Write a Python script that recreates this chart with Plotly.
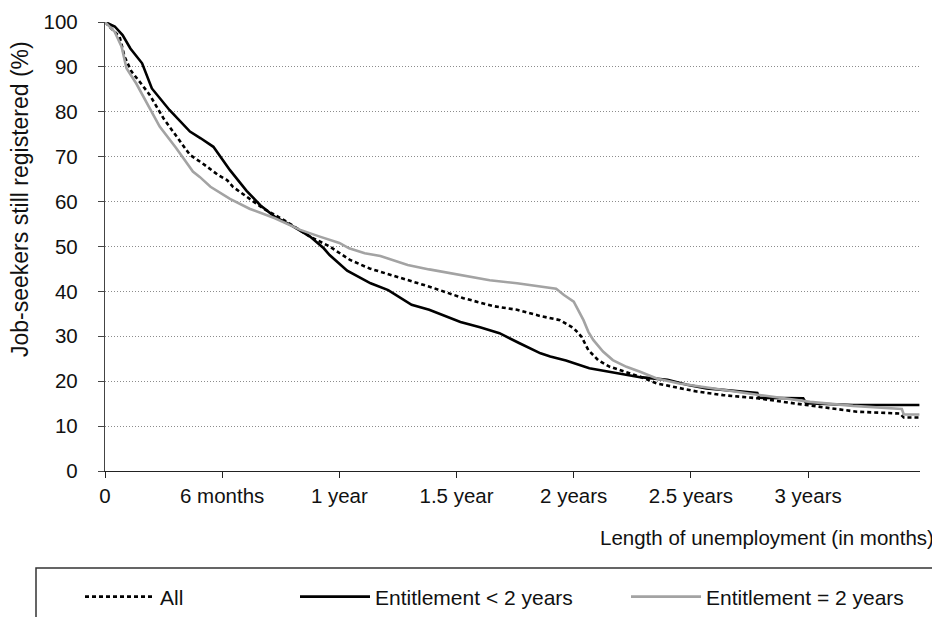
import plotly.graph_objects as go

# ---- data (months, % still registered) ----
all_months = [0, 0.75, 1.0, 1.35, 1.9, 2.3, 3.0, 3.65, 4.35, 5.0, 5.8, 6.25, 6.55, 7.25, 8.1, 9.3,
              10.5, 11.5, 12.55, 13.55, 14.95, 16.65, 18.35, 19.9, 21.1, 22.3, 23.3, 24.0, 24.4,
              24.75, 25.25, 25.85, 26.35, 27.4, 28.25, 29.45, 30.3, 31.65, 33.4, 35.9, 38.5,
              40.7, 40.9, 41.7]
all_values = [100, 96.7, 92.3, 89.0, 86.0, 83.7, 78.5, 74.5, 70.4, 68.5, 65.9, 64.8, 63.3, 61.1,
              58.5, 55.5, 52.2, 50.0, 47.0, 45.1, 43.3, 41.0, 38.5, 36.7, 35.9, 34.5, 33.6, 31.8,
              29.9, 26.9, 24.7, 23.2, 22.5, 21.0, 19.5, 18.4, 17.7, 16.9, 16.2, 14.7, 13.2, 12.8,
              11.9, 11.9]

lt2_months = [0, 0.5, 0.9, 1.3, 1.9, 2.4, 3.3, 4.35, 4.9, 5.55, 6.4, 7.25, 7.95, 8.7, 9.5, 10.5,
              11.2, 11.5, 12.4, 13.6, 14.5, 15.7, 16.6, 17.8, 18.2, 19.2, 20.2, 21.2, 22.3, 22.8,
              23.6, 24.8, 26.2, 27.4, 28.8, 29.8, 30.8, 33.4, 33.5, 35.75, 35.9, 38.3, 41.7]
lt2_values = [100, 99.0, 97.1, 94.1, 90.8, 85.2, 80.4, 75.6, 74.1, 72.2, 67.0, 62.4, 59.2, 56.6,
              54.8, 52.2, 49.6, 48.1, 44.6, 41.8, 40.3, 37.0, 35.9, 34.0, 33.2, 32.0, 30.7, 28.5,
              26.2, 25.5, 24.6, 22.9, 21.8, 20.9, 20.3, 19.2, 18.4, 17.4, 16.3, 16.2, 15.1, 14.7,
              14.7]

eq2_months = [0, 0.5, 0.85, 1.1, 1.6, 2.15, 2.8, 3.65, 4.5, 4.85, 5.4, 6.4, 7.4, 8.7, 10.0, 11.0,
              12.0, 12.5, 13.3, 14.1, 15.5, 16.6, 17.8, 19.7, 21.1, 22.3, 23.1, 23.5, 24.0, 24.5,
              24.75, 25.0, 25.5, 26.0, 26.7, 27.4, 28.25, 29.4, 30.3, 31.8, 33.4, 36.1, 38.3,
              40.8, 40.9, 41.7]
eq2_values = [100, 97.8, 94.5, 89.7, 86.3, 81.9, 76.7, 71.9, 66.7, 65.5, 63.3, 60.6, 58.4, 56.3,
              53.7, 52.2, 50.8, 49.6, 48.5, 47.9, 45.9, 44.9, 44.0, 42.5, 41.8, 41.1, 40.6, 39.2,
              37.7, 33.6, 31.0, 29.2, 26.6, 24.7, 23.2, 22.1, 20.6, 19.5, 18.9, 18.0, 17.0, 15.4,
              14.5, 13.8, 12.6, 12.6]

x_tickvals = [0, 6, 12, 18, 24, 30, 36]
x_ticktext = ["0", "6 months", "1 year", "1.5 year", "2 years", "2.5 years", "3 years"]
y_tickvals = [0, 10, 20, 30, 40, 50, 60, 70, 80, 90, 100]

FONT = "Liberation Sans, Arial, Helvetica, sans-serif"
# the page body adds an 8px offset; size the figure so it fits the 940x617 window
OFF = 8
W, H = 940 - OFF, 617 - OFF
ML, MR, MT, MB = 105 - OFF, 20, 22 - OFF, 146
PW, PH = W - ML - MR, H - MT - MB


def px_x(p):
    # p: window pixel column
    return (p - OFF - ML) / PW


def px_y(p):
    # p: window pixel row
    return (H - MB - (p - OFF)) / PH


fig = go.Figure()
fig.add_trace(go.Scatter(x=all_months, y=all_values, mode="lines", name="All",
                         line=dict(color="#000000", width=2.6, dash="4px,3px"),
                         legend="legend"))
fig.add_trace(go.Scatter(x=lt2_months, y=lt2_values, mode="lines", name="Entitlement < 2 years",
                         line=dict(color="#000000", width=2.6), legend="legend2"))
fig.add_trace(go.Scatter(x=eq2_months, y=eq2_values, mode="lines", name="Entitlement = 2 years",
                         line=dict(color="#a3a3a3", width=2.6), legend="legend3"))

leg_common = dict(orientation="h", yanchor="middle", y=px_y(597), xanchor="left",
                  font=dict(family=FONT, size=21, color="#111"), bgcolor="rgba(0,0,0,0)",
                  itemwidth=70, borderwidth=0)

fig.update_layout(
    width=W, height=H,
    margin=dict(l=ML, r=MR, t=MT, b=MB, autoexpand=False),
    paper_bgcolor="white", plot_bgcolor="white",
    font=dict(family=FONT, size=20.5, color="#111"),
    showlegend=True,
    legend=dict(x=px_x(80), **leg_common),
    legend2=dict(x=px_x(295), **leg_common),
    legend3=dict(x=px_x(626), **leg_common),
    xaxis=dict(range=[0, 41.73], tickvals=x_tickvals, ticktext=x_ticktext,
               showline=True, linecolor="#222", linewidth=1.3, ticks="outside",
               ticklen=6, tickcolor="#222", showgrid=False, zeroline=False, automargin=False,
               tickfont=dict(family=FONT, size=20.5, color="#111"), ticklabelstandoff=0),
    yaxis=dict(range=[0, 100], tickvals=y_tickvals, showline=True, linecolor="#444",
               linewidth=1.3, ticks="outside", ticklen=6, tickcolor="#444", automargin=False,
               showgrid=True, gridcolor="#8c8c8c", gridwidth=1, griddash="1px,2px",
               zeroline=False, tickfont=dict(family=FONT, size=20.5, color="#111"),
               ticklabelstandoff=16),
    annotations=[
        dict(text="Length of unemployment (in months)", xref="paper", yref="paper",
             x=px_x(936), y=px_y(537), xanchor="right", yanchor="middle", showarrow=False,
             font=dict(family=FONT, size=20.5, color="#111")),
        dict(text="Job-seekers still registered (%)", xref="paper", yref="paper",
             x=px_x(20), y=px_y(199), xanchor="center", yanchor="middle", showarrow=False,
             textangle=-90, font=dict(family=FONT, size=23, color="#111")),
    ],
    shapes=[
        dict(type="rect", xref="paper", yref="paper", x0=px_x(36), x1=px_x(980),
             y0=px_y(660), y1=px_y(568), line=dict(color="#333", width=1.5),
             fillcolor="rgba(0,0,0,0)", layer="below"),
    ],
)

fig.write_html("out.html")
